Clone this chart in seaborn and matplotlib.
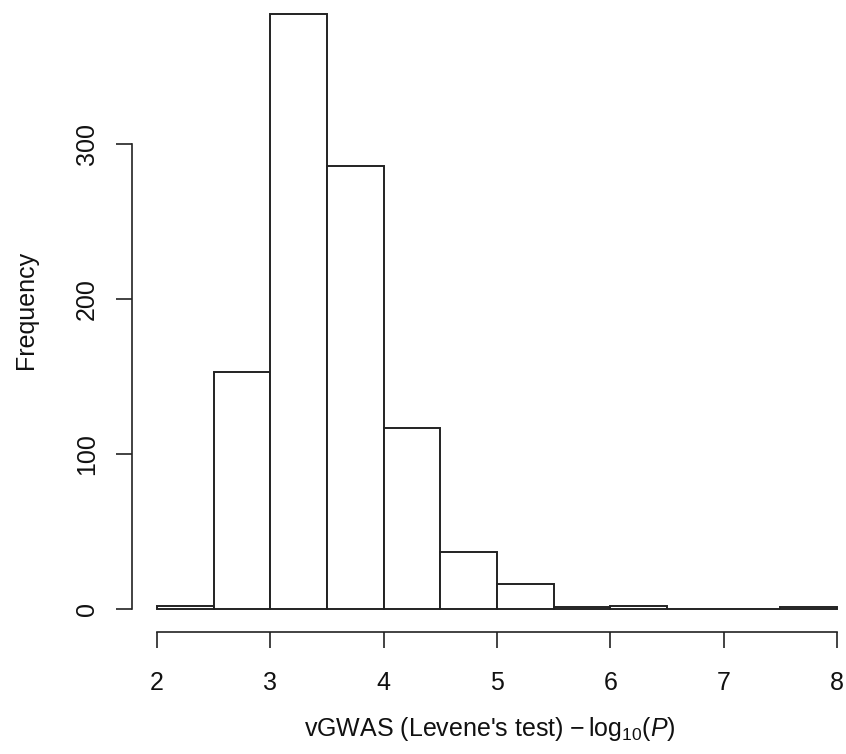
import matplotlib
matplotlib.use("Agg")
import matplotlib.pyplot as plt
import seaborn as sns
import numpy as np
import pandas as pd

# Data
bin_edges = [2.0, 2.5, 3.0, 3.5, 4.0, 4.5, 5.0, 5.5, 6.0, 6.5, 7.0, 7.5, 8.0]
counts = [2, 153, 384, 286, 117, 37, 16, 1, 2, 0, 0, 1]
x_ticks = [2, 3, 4, 5, 6, 7, 8]
y_ticks = [0, 100, 200, 300]
x_label = r"vGWAS (Levene's test) $-\,\mathrm{log}_{10}(\mathit{P})$"
y_label = "Frequency"

sns.set_theme(style="white")
plt.rcParams['font.family'] = ['Liberation Sans', 'DejaVu Sans']
plt.rcParams['mathtext.fontset'] = 'custom'
plt.rcParams['mathtext.rm'] = 'Liberation Sans'
plt.rcParams['mathtext.it'] = 'Liberation Sans:italic'

edges = np.array(bin_edges)
centers = (edges[:-1] + edges[1:]) / 2
df = pd.DataFrame({"value": centers, "count": counts})

W, H = 846, 754
fig = plt.figure(figsize=(W / 100, H / 100), dpi=100)
ax_left, ax_right, ax_bottom, ax_top = 132, 846, 632, 0
ax = fig.add_axes([ax_left / W, (H - ax_bottom) / H, (ax_right - ax_left) / W, (ax_bottom - ax_top) / H])

sns.histplot(data=df, x="value", weights="count", bins=list(bin_edges), ax=ax,
             color="white", edgecolor="#222222", linewidth=1.4, alpha=1.0)

# pixel scale: x 2->157, 8->837; y 0->609, 300->144
px_per_x = (837 - 157) / 6
px_per_y = (609 - 144) / 300
ax.set_xlim(2 - (157 - ax_left) / px_per_x, 2 + (ax_right - 157) / px_per_x)
ax.set_ylim(-(ax_bottom - 609) / px_per_y, (609 - ax_top) / px_per_y)

for s in ['top', 'right']:
    ax.spines[s].set_visible(False)
ax.spines['left'].set_bounds(0, 300)
ax.spines['bottom'].set_bounds(2, 8)
for s in ['left', 'bottom']:
    ax.spines[s].set_color('#222222')
    ax.spines[s].set_linewidth(1.2)

ax.set_xticks(x_ticks)
ax.set_yticks(y_ticks)
ax.set_xticklabels([str(t) for t in x_ticks])
ax.set_yticklabels([str(t) for t in y_ticks], rotation=90, va='center')
ax.tick_params(axis='both', which='both', length=11.5, width=1.2, color='#222222',
               labelsize=18, labelcolor='#111111', direction='out', left=True, bottom=True)
ax.tick_params(axis='x', pad=16.5)
ax.tick_params(axis='y', pad=12.5)

ax.set_xlabel("")
ax.set_ylabel("")
fig.text(490 / W, 1 - 729 / H, x_label, ha='center', va='center', fontsize=18, color='#111111')
fig.text(26 / W, 1 - 310 / H, y_label, ha='center', va='center', rotation=90, fontsize=18, color='#111111')
ax.grid(False)
ax.set_facecolor('white')

fig.savefig("out.png", dpi=100, facecolor='white')
